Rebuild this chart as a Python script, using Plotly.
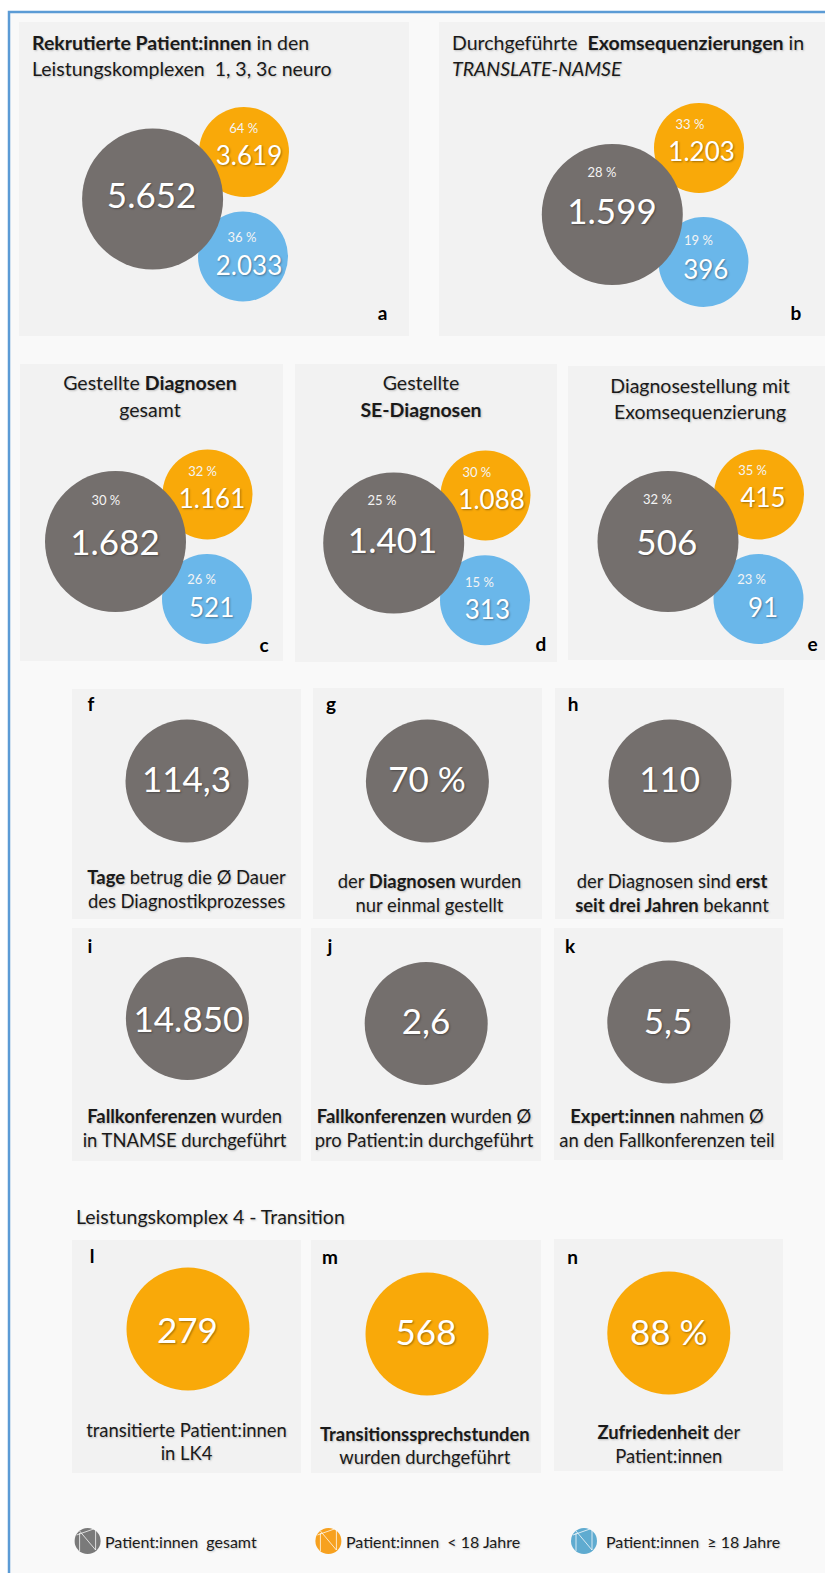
import plotly.graph_objects as go

# --- Content -------------------------------------------------------------
totals_top = ["5.652", "1.599", "1.682", "1.401", "506"]
under18_top = ["3.619", "1.203", "1.161", "1.088", "415"]
over18_top = ["2.033", "396", "521", "313", "91"]
totals_pct = ["", "28 %", "30 %", "25 %", "32 %"]
under18_pct = ["64 %", "33 %", "32 %", "30 %", "35 %"]
over18_pct = ["36 %", "19 %", "26 %", "15 %", "23 %"]
single_values = ["114,3", "70 %", "110", "14.850", "2,6", "5,5", "279", "568", "88 %"]
single_letters = list("fghijklmn")
top_letters = list("abcde")
single_captions = [
    ["<b>Tage</b> betrug die Ø Dauer", "des Diagnostikprozesses"],
    ["der <b>Diagnosen</b> wurden", "nur einmal gestellt"],
    ["der Diagnosen sind <b>erst</b>", "<b>seit drei Jahren</b> bekannt"],
    ["<b>Fallkonferenzen</b> wurden", "in TNAMSE durchgeführt"],
    ["<b>Fallkonferenzen</b> wurden Ø", "pro Patient:in durchgeführt"],
    ["<b>Expert:innen</b> nahmen Ø", "an den Fallkonferenzen teil"],
    ["transitierte Patient:innen", "in LK4"],
    ["<b>Transitionssprechstunden</b>", "wurden durchgeführt"],
    ["<b>Zufriedenheit</b> der", "Patient:innen"],
]
legend_labels = ["Patient:innen  gesamt", "Patient:innen  < 18 Jahre", "Patient:innen  ≥ 18 Jahre"]
section_heading = "Leistungskomplex 4 - Transition"

# --- Styling -------------------------------------------------------------
FONT = "Lato"
GREY, ORANGE, BLUE = "#746f6d", "#f9a909", "#6ab7ea"
ICON_COLORS = ["#7a7a7a", "#f7a11f", "#5fabd0"]
PANEL, PAGE, FRAME = "#f2f2f2", "#f9f9f9", "#5b9bd5"
SHADOW_LIGHT = "1px 1px 2px rgba(0,0,0,0.35)"
SHADOW_DARK = "1px 1px 2px rgba(0,0,0,0.22)"
INK = "#1a1a1a"
BASELINE_NUDGE = 0.11  # share of the font size that re-centres text on its anchor

# --- Placement on the page (pixel grid of the canvas) ---------------------
panels = [
    (19, 22, 409, 336), (439, 22, 826, 336),
    (20, 364, 283, 661), (295, 364, 557, 662), (568, 366, 826, 660),
    (72, 689, 301, 919), (313, 688, 542, 919), (555, 688, 784, 919),
    (72, 928, 301, 1161), (311, 928, 541, 1161), (554, 928, 783, 1160),
    (72, 1240, 301, 1473), (311, 1240, 541, 1473), (554, 1239, 783, 1471),
]
big_xy = [(152.6, 199), (612.3, 214.5), (115.5, 541.5), (393.7, 543), (668, 541.5)]
orange_xy = [(244, 152), (699, 148), (207.5, 494.5), (485.5, 495.5), (759, 494.5)]
blue_xy = [(243, 256.5), (703.5, 262), (207, 599), (485, 600.3), (758.5, 599)]
big_label_xy = [(151.6, 195), (612, 211.7), (115, 542.7), (392.6, 540), (666.8, 542.7)]
orange_label_xy = [(249, 155.7), (701.6, 151.7), (212, 499), (491.6, 500), (763, 497.7)]
blue_label_xy = [(249, 265.7), (705.8, 270), (211.6, 608), (487.4, 610), (763, 607.3)]
big_pct_xy = [(0, 0), (602, 172), (105.8, 500.7), (382, 500.7), (657.4, 499.7)]
orange_pct_xy = [(243.7, 128), (690, 124), (202.6, 471), (476.8, 472), (752.6, 470)]
blue_pct_xy = [(242, 237.7), (698.4, 240), (201.6, 579), (479.5, 582), (751.6, 579)]
top_letter_xy = [(382.6, 313), (796, 313), (264, 644.7), (541, 644), (812.6, 644)]

single_xy = [(187, 781), (427.4, 781), (670, 781),
             (187.4, 1018.5), (426.2, 1023.5), (668.8, 1022),
             (188, 1329), (427, 1334), (668.8, 1333)]
single_label_xy = [(186.5, 779), (427, 779), (669.7, 779),
                   (188.4, 1019), (426, 1021), (668, 1021),
                   (187.4, 1330.7), (426, 1332), (668.8, 1332)]
single_letter_xy = [(91, 704), (331, 704), (573, 704),
                    (90, 946), (330, 946), (570, 946),
                    (92, 1256), (330, 1257), (572.5, 1257)]
caption_xy = [(186.5, 877.7, 901), (429.5, 881, 905), (672, 881, 905),
              (184.6, 1116.7, 1140), (424, 1116.7, 1140), (667, 1116.7, 1140),
              (186.5, 1430, 1453), (424.8, 1434, 1457), (668.8, 1432, 1456)]

fig = go.Figure()


def add_dots(points, color, size):
    fig.add_trace(go.Scatter(
        x=[p[0] for p in points], y=[p[1] for p in points], mode="markers",
        marker=dict(color=color, size=size, line=dict(width=0)),
        hoverinfo="skip", showlegend=False))


def add_text(points, labels, size, color, shadow, position="middle center", weight="normal"):
    fig.add_trace(go.Scatter(
        x=[p[0] for p in points], y=[p[1] + BASELINE_NUDGE * size for p in points],
        text=labels, mode="text", textposition=position,
        textfont=dict(family=FONT, size=size, color=color, shadow=shadow, weight=weight),
        hoverinfo="skip", showlegend=False))


# Group circles: the two age groups sit behind the total
add_dots(orange_xy, ORANGE, 90)
add_dots(blue_xy, BLUE, 90)
add_dots(big_xy, GREY, 141)

# Single-figure circles, first six are grey, the transition row orange
add_dots(single_xy[:6], GREY, 123)
add_dots(single_xy[6:], ORANGE, 123)

# Legend badges with their stylised "N"
legend_xy = [(87.6, 1541), (328.4, 1541), (584, 1541)]
N_STROKES = [[(-8, 10), (-8, -8)], [(-8, -10), (8, 9)], [(8, 9), (8, -11)], [(-11, -6), (6, -12)]]
for (cx, cy), col in zip(legend_xy, ICON_COLORS):
    add_dots([(cx, cy)], col, 26)
    for stroke in N_STROKES:
        fig.add_trace(go.Scatter(
            x=[cx + dx for dx, _ in stroke], y=[cy + dy for _, dy in stroke], mode="lines",
            line=dict(color="rgba(255,255,255,0.75)", width=1),
            hoverinfo="skip", showlegend=False))

# Numbers inside the circles
add_text(big_label_xy, totals_top, 35, "white", SHADOW_LIGHT)
add_text(orange_label_xy + blue_label_xy, under18_top + over18_top, 26, "white", SHADOW_LIGHT)
add_text(big_pct_xy[1:] + orange_pct_xy + blue_pct_xy,
         totals_pct[1:] + under18_pct + over18_pct, 13, "#f4f4f4", "none")
add_text(single_label_xy, single_values, 35, "white", SHADOW_LIGHT)

# Panel letters
add_text(top_letter_xy + single_letter_xy, top_letters + single_letters, 19, "black", "none",
         weight=700)

# Panel titles
add_text([(32, 43), (32, 69)],
         ["<b>Rekrutierte Patient:innen</b> in den", "Leistungskomplexen  1, 3, 3c neuro"],
         19.5, INK, SHADOW_DARK, "middle right")
add_text([(452, 43), (452, 69)],
         ["Durchgeführte  <b>Exomsequenzierungen</b> in", "<i>TRANSLATE-NAMSE</i>"],
         19.5, INK, SHADOW_DARK, "middle right")
add_text([(150, 383), (150, 410), (421, 383), (421, 410), (700, 386), (700, 412)],
         ["Gestellte <b>Diagnosen</b>", "gesamt", "Gestellte", "<b>SE-Diagnosen</b>",
          "Diagnosestellung mit", "Exomsequenzierung"],
         19.5, INK, SHADOW_DARK)

# Captions below the single figures
cap_points, cap_lines = [], []
for (cx, y1, y2), (line1, line2) in zip(caption_xy, single_captions):
    cap_points += [(cx, y1), (cx, y2)]
    cap_lines += [line1, line2]
add_text(cap_points, cap_lines, 18.4, INK, SHADOW_DARK)

add_text([(76, 1217)], [section_heading], 19.5, INK, SHADOW_DARK, "middle right")
add_text([(105, 1542), (346, 1542), (606, 1542)], legend_labels, 16, INK, SHADOW_DARK, "middle right")

shapes = [dict(type="rect", x0=9, y0=12, x1=835, y1=1590, layer="below",
               fillcolor=PAGE, line=dict(color=FRAME, width=2.5))]
shapes += [dict(type="rect", x0=a, y0=b, x1=c, y1=d, layer="below",
                fillcolor=PANEL, line=dict(width=0)) for a, b, c, d in panels]

fig.update_layout(
    width=825, height=1573, margin=dict(l=0, r=0, t=0, b=0),
    paper_bgcolor="white", plot_bgcolor="white", showlegend=False, shapes=shapes,
    xaxis=dict(range=[0, 825], visible=False, fixedrange=True),
    yaxis=dict(range=[1573, 0], visible=False, fixedrange=True),
)

fig.write_html("out.html", config=dict(displayModeBar=False))
